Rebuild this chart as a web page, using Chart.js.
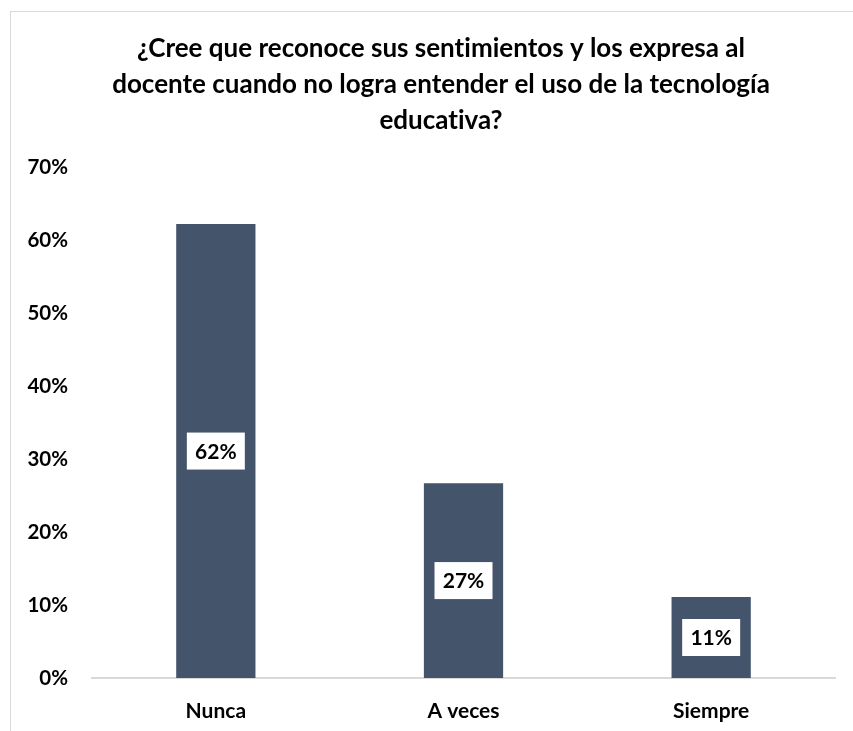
<!DOCTYPE html>
<html>
<head>
<meta charset="utf-8">
<script src="https://cdn.jsdelivr.net/npm/chart.js@4.4.0/dist/chart.umd.min.js"></script>
<style>
  html, body { margin: 0; padding: 0; background: #fff; overflow: hidden; }
  #frame { position: absolute; left: 10px; top: 11px; width: 860px; height: 740px; border: 1px solid #d9d9d9; }
</style>
</head>
<body>
<div id="frame"><canvas id="chart" width="860" height="740"></canvas></div>
<script>
var titleLines = [
  "¿Cree que reconoce sus sentimientos y los expresa al",
  "docente cuando no logra entender el uso de la tecnología",
  "educativa?"
];
var categories = ["Nunca", "A veces", "Siempre"];
var values = [62.2, 26.7, 11.1];
var yTicks = [0, 10, 20, 30, 40, 50, 60, 70];

var FONT = "Lato, 'Open Sans', sans-serif";

// no "ti" ligatures, like the original
var noLigatures = {
  id: "noLigatures",
  beforeDraw: function(chart) {
    chart.ctx.textRendering = "optimizeSpeed";
  }
};

// white boxed value labels in the middle of each bar
var boxLabels = {
  id: "boxLabels",
  afterDatasetsDraw: function(chart) {
    var ctx = chart.ctx;
    var meta = chart.getDatasetMeta(0);
    ctx.save();
    ctx.font = "bold 21px " + FONT;
    ctx.textAlign = "center";
    ctx.textBaseline = "middle";
    meta.data.forEach(function(bar, i) {
      var cy = (bar.y + bar.base) / 2;
      ctx.fillStyle = "#ffffff";
      ctx.fillRect(bar.x - 29, cy - 18.5, 58, 37);
      ctx.fillStyle = "#000000";
      ctx.fillText(Math.round(values[i]) + "%", bar.x, cy + 1);
    });
    ctx.restore();
  }
};

new Chart(document.getElementById("chart"), {
  type: "bar",
  data: {
    labels: categories,
    datasets: [{
      data: values,
      backgroundColor: "#44546A",
      borderWidth: 0,
      barPercentage: 0.64,
      categoryPercentage: 0.5
    }]
  },
  options: {
    responsive: false,
    animation: false,
    layout: { padding: 0 },
    plugins: {
      legend: { display: false },
      tooltip: { enabled: false },
      title: {
        display: true,
        text: titleLines,
        color: "#000000",
        font: { family: FONT, size: 26, weight: "bold", lineHeight: 1.4 },
        padding: { top: 18, bottom: 28 }
      }
    },
    scales: {
      x: {
        grid: { display: false, drawTicks: false },
        border: { display: true, color: "#d9d9d9", width: 2 },
        ticks: { color: "#000000", font: { family: FONT, size: 21, weight: "bold" }, padding: 21 },
        afterFit: function(s) { s.height = 74; }
      },
      y: {
        min: 0,
        max: 70,
        grid: { display: false, drawTicks: false },
        border: { display: false },
        afterBuildTicks: function(s) { s.ticks = yTicks.map(function(v) { return { value: v }; }); },
        ticks: {
          color: "#000000",
          font: { family: FONT, size: 20.5, weight: "bold" },
          padding: 24,
          callback: function(v) { return v + "%"; }
        },
        afterFit: function(s) { s.width = 81; }
      },
      // empty strip on the right so the title stays centred on the frame
      yRight: {
        position: "right",
        display: true,
        grid: { display: false, drawTicks: false },
        border: { display: false },
        ticks: { display: false },
        afterFit: function(s) { s.width = 36; }
      }
    }
  },
  plugins: [noLigatures, boxLabels]
});
</script>
</body>
</html>
